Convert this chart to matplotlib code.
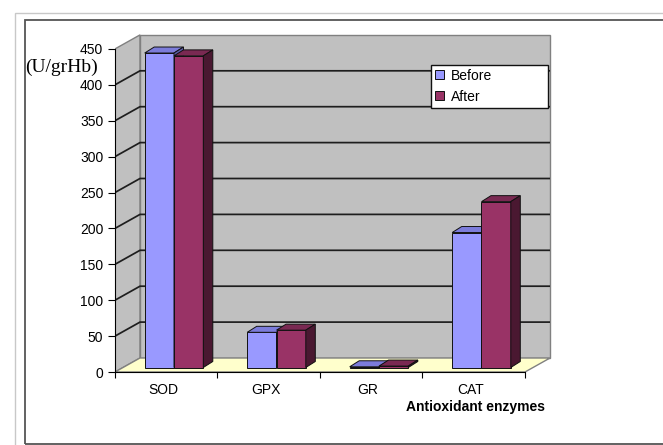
import matplotlib
matplotlib.use('Agg')
import matplotlib.pyplot as plt
from matplotlib.patches import Polygon, Rectangle

# ---- data ----
categories = ['SOD', 'GPX', 'GR', 'CAT']
before = [438, 49, 1, 188]
after = [434, 52, 2, 231]
series_names = ['Before', 'After']
yticks = [0, 50, 100, 150, 200, 250, 300, 350, 400, 450]
ylabel = '(U/grHb)'
xlabel = 'Antioxidant enzymes'

# ---- styling / geometry (pixels) ----
W, H = 663, 445
X0, CATW = 115, 102.5     # front axis x, px per category
Y0, PPU = 372, 0.718      # front baseline y, px per unit
AX_R, AX_T = 560, 25

fig = plt.figure(figsize=(W / 100, H / 100), dpi=100)
fig.patch.set_facecolor('white')

def fx(px):
    return px / W

def fy(py):
    return 1 - py / H

# outer frames
fig.add_artist(Rectangle((fx(15), fy(460)), 2, fy(13) - fy(460), transform=fig.transFigure,
                         fill=False, ec='#c8c8c8', lw=1.0))
fig.add_artist(Rectangle((fx(25), fy(444)), 2, fy(20) - fy(444), transform=fig.transFigure,
                         fill=False, ec='#555555', lw=1.3))

ax = fig.add_axes([fx(X0), fy(Y0), (AX_R - X0) / W, (Y0 - AX_T) / H])
ax.set_xlim(0, (AX_R - X0) / CATW)
ax.set_ylim(0, (Y0 - AX_T) / PPU)
ax.patch.set_visible(False)

n = len(categories)
ymax = yticks[-1]
DX = 25 / CATW
DY = 14 / PPU

wall_c = '#C0C0C0'
edge_c = '#808080'
# side wall
ax.add_patch(Polygon([(0, 0), (DX, DY), (DX, ymax + DY), (0, ymax)], closed=True,
                     fc=wall_c, ec=edge_c, lw=1.0, zorder=1))
# back wall
ax.add_patch(Polygon([(DX, DY), (n + DX, DY), (n + DX, ymax + DY), (DX, ymax + DY)], closed=True,
                     fc=wall_c, ec=edge_c, lw=1.0, zorder=1))
# floor
ax.add_patch(Polygon([(0, 0), (n, 0), (n + DX, DY), (DX, DY)], closed=True,
                     fc='#FFFFCC', ec=edge_c, lw=1.0, zorder=1.5))
# gridlines
for v in yticks[1:-1]:
    ax.plot([0, DX, n + DX], [v, v + DY, v + DY], color='#1e1e1e', lw=1.25, zorder=2,
            solid_capstyle='butt')

# bars
BASE = 4.5 / PPU
BW = 29.3 / CATW
OFF = 29.7 / CATW
bdx = 9.5 / CATW
bdy = 6 / PPU

front_c = ['#9999FF', '#993366']
top_c = ['#7C7CDA', '#7A2952']
side_c = ['#5C5CAA', '#4A1831']

containers = []
for s, vals in enumerate([before, after]):
    xs = [i + OFF + s * BW for i in range(n)]
    z = 3 + 2 * s
    bc = ax.bar(xs, vals, width=BW, bottom=BASE, align='edge', color=front_c[s],
                edgecolor='#111111', linewidth=0.7, zorder=z, label=series_names[s])
    containers.append(bc)
    for x, v in zip(xs, vals):
        t = BASE + v
        ax.add_patch(Polygon([(x, t), (x + BW, t), (x + BW + bdx, t + bdy), (x + bdx, t + bdy)],
                             closed=True, fc=top_c[s], ec='#111111', lw=0.7, zorder=z + 0.5))
        ax.add_patch(Polygon([(x + BW, BASE), (x + BW + bdx, BASE + bdy), (x + BW + bdx, t + bdy),
                              (x + BW, t)],
                             closed=True, fc=side_c[s], ec='#111111', lw=0.7, zorder=z + 0.5))

# axes / ticks
for sp in ['top', 'right']:
    ax.spines[sp].set_visible(False)
ax.spines['left'].set_bounds(0, ymax)
ax.spines['bottom'].set_bounds(0, n)
ax.spines['left'].set_zorder(10)
ax.spines['bottom'].set_zorder(10)
ax.set_yticks(yticks)
ax.set_yticklabels([str(v) for v in yticks])
ax.tick_params(axis='y', direction='out', length=5, width=0.8, labelsize=10, pad=3.5)
ax.set_xticks(range(n + 1))
ax.set_xticklabels([''] * (n + 1))
ax.set_xticks([i + 0.47 for i in range(n)], minor=True)
ax.set_xticklabels(categories, minor=True)
ax.tick_params(axis='x', which='major', direction='out', length=4.3, width=0.8)
ax.tick_params(axis='x', which='minor', length=0, labelsize=10, pad=8)
for lab in ax.get_yticklabels() + ax.get_xticklabels(minor=True):
    lab.set_fontfamily('Liberation Sans')

fig.text(fx(475), fy(407), xlabel, ha='center', va='center', fontsize=10,
         fontweight='bold', family='Liberation Sans')
fig.text(fx(61), fy(67), ylabel, ha='center', va='center', fontsize=14,
         family='Liberation Serif')

leg = ax.legend(handles=containers, labels=series_names, loc='upper left',
                bbox_to_anchor=(fx(431), fy(65), (548 - 431) / W, 0.001),
                bbox_transform=fig.transFigure, mode='expand', borderaxespad=0,
                fontsize=10, handlelength=0.65, handleheight=0.65, handletextpad=0.5,
                labelspacing=0.5, borderpad=0.3, fancybox=False, framealpha=1,
                prop={'family': 'Liberation Sans', 'size': 10})
leg.get_frame().set_edgecolor('#111111')
leg.get_frame().set_linewidth(1.0)
leg.set_zorder(20)

fig.savefig('out.png', dpi=100)
